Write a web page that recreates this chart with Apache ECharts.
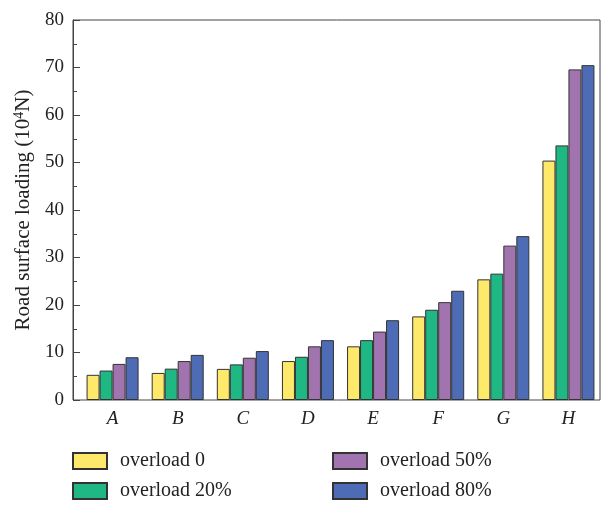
<!DOCTYPE html>
<html>
<head>
<meta charset="utf-8">
<script src="https://cdn.jsdelivr.net/npm/echarts@6/dist/echarts.min.js"></script>
<style>html,body{margin:0;padding:0;background:#fff;}#c{width:601px;height:506px;}</style>
</head>
<body>
<div id="c"></div>
<script>
var categories = ['A', 'B', 'C', 'D', 'E', 'F', 'G', 'H'];
var seriesNames = ['overload 0', 'overload 20%', 'overload 50%', 'overload 80%'];
var overload0  = [5.3, 5.7, 6.55, 8.2, 11.3, 17.6, 25.4, 50.4];
var overload20 = [6.2, 6.6, 7.5, 9.1, 12.6, 19.0, 26.6, 53.6];
var overload50 = [7.6, 8.2, 8.9, 11.3, 14.4, 20.6, 32.5, 69.6];
var overload80 = [9.0, 9.5, 10.3, 12.6, 16.8, 23.0, 34.5, 70.5];
var yTicks = [0, 10, 20, 30, 40, 50, 60, 70, 80];
var colors = ['#FEE96A', '#1FB784', '#A174B0', '#4E6BB5'];

var font = '"Liberation Serif", "Times New Roman", serif';
var values = [overload0, overload20, overload50, overload80];

var chart = echarts.init(document.getElementById('c'), null, {renderer: 'canvas'});
var series = values.map(function (v, i) {
  return {
    name: seriesNames[i],
    type: 'bar',
    xAxisIndex: 0,
    yAxisIndex: 0,
    data: v,
    barWidth: 13,
    barGap: '0%',
    itemStyle: {color: colors[i], borderColor: '#333', borderWidth: 1}
  };
});
var legendText = {fontFamily: font, fontSize: 20, color: '#222', lineHeight: 16, padding: [0, 0, 0, 8]};
var option = {
  animation: false,
  backgroundColor: '#fff',
  textStyle: {fontFamily: font},
  grid: [
    {left: 80, top: 20, bottom: 106, right: -2, containLabel: false},
    {left: 73, top: 20, bottom: 106, right: 1, show: true, borderColor: '#444', borderWidth: 1, backgroundColor: 'transparent'}
  ],
  xAxis: [
    {
      type: 'category', gridIndex: 0, data: categories,
      boundaryGap: true,
      axisLine: {show: false},
      axisTick: {show: false},
      axisLabel: {fontFamily: font, fontStyle: 'italic', fontSize: 19, color: '#222', margin: 9}
    },
    {type: 'value', gridIndex: 1, show: false}
  ],
  yAxis: [
    {
      type: 'value', gridIndex: 0,
      min: yTicks[0], max: yTicks[yTicks.length - 1], interval: 10,
      offset: 7,
      axisLine: {show: true, lineStyle: {color: '#444', width: 1}},
      axisTick: {show: true, inside: true, length: 7, lineStyle: {color: '#444'}},
      minorTick: {show: true, splitNumber: 2, length: 4, lineStyle: {color: '#444'}},
      splitLine: {show: false},
      axisLabel: {fontFamily: font, fontSize: 19, color: '#222', margin: 9},
      name: 'Road surface loading (10{sup|4}N)',
      nameLocation: 'middle',
      nameGap: 38,
      nameRotate: 90,
      nameTextStyle: {
        fontFamily: font, fontSize: 21, color: '#222',
        rich: {sup: {fontFamily: font, fontSize: 14, color: '#222', verticalAlign: 'bottom', padding: [0, 0, 9, 0]}}
      }
    },
    {type: 'value', gridIndex: 1, show: false}
  ],
  legend: [
    {
      data: [seriesNames[0], seriesNames[1]],
      orient: 'vertical', left: 72, top: 451, height: 60, padding: 0,
      icon: 'rect', itemWidth: 34, itemHeight: 16, itemGap: 10,
      textStyle: legendText
    },
    {
      data: [seriesNames[2], seriesNames[3]],
      orient: 'vertical', left: 332, top: 451, height: 60, padding: 0,
      icon: 'rect', itemWidth: 34, itemHeight: 16, itemGap: 10,
      textStyle: legendText
    }
  ],
  series: series
};
chart.setOption(option);
</script>
</body>
</html>
